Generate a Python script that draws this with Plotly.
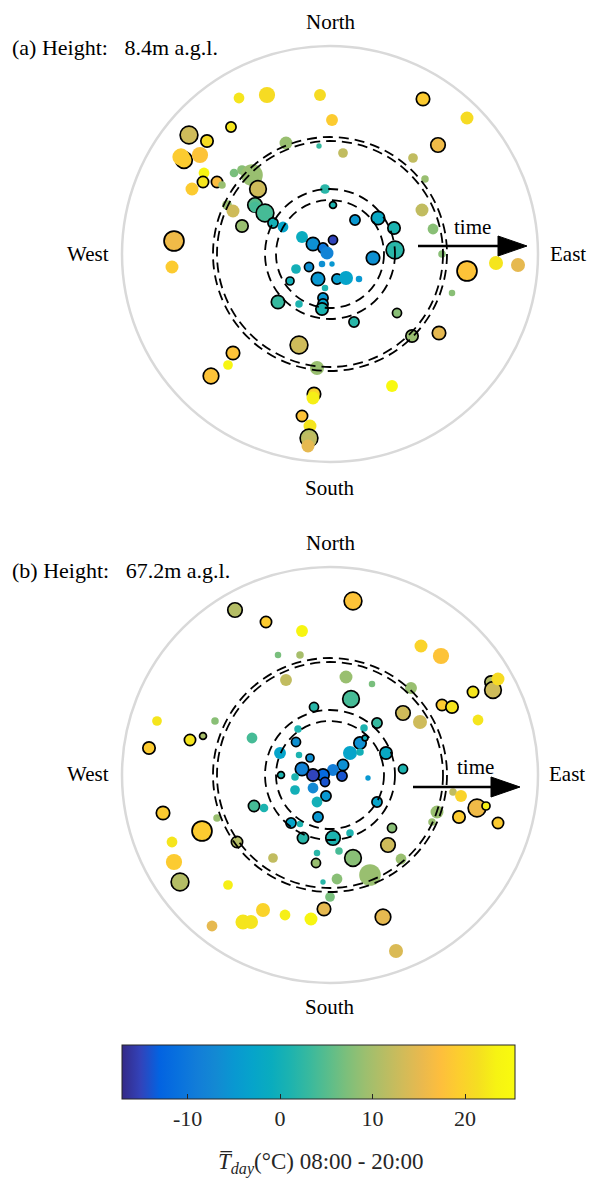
import plotly.graph_objects as go

# ---------------- data (east / north offsets in radius units, outer ring = 208) ----------------
R_OUTER = 208
RINGS = [117, 113, 65, 54]
T_MIN, T_MAX = -17.1, 25.4

# panel (a) 8.4 m
A_EAST = [-91, -63, -10, 93, 2, 137, -99, -141, -123, 108, -146, -149, -130, -44, -11, 13, 83, 95,
          -126, -96, -88, -78, -138, -127, -113, -108, -103, -97, -88, -72, -75, -75, -65, -57, -47,
          -5, 3, 25, 48, 64, 65, 43, -28, -17, 3, -7, -3, -8, 2, -34, -21, -40, -12, 7, 16, 29, -5,
          -7, -7, -8, -52, -31, 24, 67, 92, 103, 112, 122, 137, 166, 188, -156, -158, -31, 82, 109,
          -97, -102, -119, -13, -16, -17, 62, -28, -20, -21, -21, -22]
A_NORTH = [156, 159, 159, 155, 134, 136, 127, 119, 113, 109, 94, 97, 99, 111, 108, 101, 96, 75,
           81, 81, 84, 79, 65, 72, 72, 69, 49, 43, 28, 65, 49, 47, 41, 31, 27,
           65, 49, 34, 36, 26, 4, -4, 17, 10, 14, 6, 1, -10, -10, -15, -13, -27, -25, -25, -24, -25, -34,
           -44, -50, -55, -48, -50, -68, -59, 44, 25, 0, -39, -17, -9, -11, 13, -13, -91, -82, -79,
           -99, -111, -122, -114, -140, -144, -132, -162, -172, -184, -186, -192]
A_TEMP = [22, 21, 21, 19, 19, 21, 22, 13, 21, 16, 19, 19, 18, 9, 3, 12, 12, 9,
          24, 7, 8, 9, 19, 22, 17, 9, 9, 13, 9, 13, 5, 4, 4, 0, -3,
          2, 1, -5, -2, 1, 2, -6, -1, -6, -15, -10, -8, -6, -5, 0, -6, 0, -5, -4, -3, -5, 1,
          -5, -3, 1, 3, 1, 2, 8, 12, 8, 8, 8, 18, 22, 15, 16, 19, 13, 9, 15,
          18, 24, 18, 9, 20, 23, 25, 18, 22, 11, 12, 15]
A_SIZE = [10, 15, 11, 14, 11, 12, 11, 18, 13, 15, 17, 16, 15, 12, 5, 9, 9, 7,
          10, 8, 9, 20, 12, 12, 12, 7, 9, 12, 13, 17, 15, 10, 18, 11, 10,
          9, 8, 11, 14, 13, 18, 14, 11, 14, 10, 11, 12, 6, 5, 9, 10, 9, 14, 11, 13, 6, 6,
          11, 11, 13, 14, 7, 11, 10, 12, 10, 7, 6, 20, 13, 13, 20, 12, 18, 13, 14,
          14, 9, 16, 13, 14, 12, 11, 12, 12, 18, 14, 12]
A_EDGE = [0, 0, 0, 1, 0, 0, 1, 1, 1, 1, 1, 0, 0, 0, 0, 0, 0, 0,
          0, 0, 0, 0, 0, 1, 1, 0, 0, 0, 1, 1, 1, 0, 1, 1, 0,
          0, 1, 1, 1, 1, 1, 1, 0, 1, 1, 1, 0, 0, 0, 0, 1, 1, 1, 1, 0, 0, 0,
          1, 1, 1, 1, 0, 1, 1, 0, 0, 0, 0, 1, 0, 0, 1, 0, 1, 1, 1,
          1, 0, 1, 0, 1, 0, 0, 1, 0, 1, 0, 0]

# panel (b) 67.2 m
B_EAST = [-95, -64, -28, 23, 91, 111, -52, -30, -44, 16, 42, 81, 21, 143, 161, 163, 168, 112, 122,
          -16, 73, 90, 148, -173, -115, -181, -140, -127, -78, -32, 34, 47, 30, 35, 20, 30, 13, 3,
          12, -7, -5, -17, -28, -35, -20, -31, -50, -34, -49, -35, -17, -4, -13, 38, 73, 56, 47,
          -76, -66, -12, -39, -30, -27, 3, 20, 62, 58, 107, 102, 123, 131, 147, 156, 129, 168,
          -167, -128, -158, -113, -93, -156, -150, -102, -57, -14, -13, 9, 23, 40, 71, -7, 7, 0,
          -6, 53, -19, -45, -67, -87, -79, -118, 66]
B_NORTH = [165, 153, 144, 174, 129, 119, 120, 120, 95, 98, 91, 87, 76, 83, 93, 85, 96, 70, 68,
           68, 62, 53, 55, 54, 54, 27, 35, 39, 37, 46, 47, 52, 32, 37, 22, 23, 10, 5,
           -1, 0, -7, 0, 6, -2, 17, 20, 22, 33, 0, -15, -13, -21, -27, -3, 6, 22, -27,
           -31, -33, -42, -48, -49, -63, -63, -58, -53, -70, -37, -47, -17, -21, -33, -31, -42, -48,
           -38, -56, -67, -43, -67, -87, -107, -110, -83, -88, -78, -76, -83, -100, -84, -107, -104, -122,
           -134, -142, -144, -140, -135, -147, -147, -151, -176]
B_TEMP = [11, 19, 24, 18, 20, 18, 7, 10, 12, 9, 7, 9, 4, 22, 11, 13, 21, 19, 22,
          2, 13, 13, 22, 22, 8, 19, 22, 10, 4, 1, 1, 3, -6, 0, -3, 0, -6, -9,
          -14, -12, -14, -15, -8, 1, -6, 1, -3, -6, 1, 0, -7, -5, 0, -5, 1, -2, -3,
          4, 1, -5, -3, 1, 2, 1, 1, 8, 13, 9, 9, 12, 20, 16, 23, 19, 19,
          19, 19, 22, 9, 11, 19, 11, 23, 12, 9, 2, 4, 8, 9, 9, 2, 8, 7,
          15, 15, 24, 23, 20, 22, 22, 15, 14]
B_SIZE = [15, 12, 11, 18, 12, 15, 6, 7, 11, 12, 6, 11, 17, 12, 13, 17, 12, 12, 13,
          10, 15, 13, 10, 9, 7, 13, 12, 8, 10, 7, 7, 11, 13, 7, 13, 7, 12, 11,
          11, 13, 10, 13, 14, 7, 9, 6, 11, 10, 8, 9, 10, 11, 10, 5, 10, 13, 11,
          12, 8, 11, 11, 6, 12, 15, 7, 10, 15, 12, 7, 7, 11, 18, 9, 13, 12,
          14, 20, 10, 7, 12, 15, 18, 9, 9, 10, 6, 7, 17, 20, 10, 5, 10, 9,
          14, 16, 12, 10, 13, 14, 13, 10, 13]
B_EDGE = [1, 1, 0, 1, 0, 0, 0, 0, 0, 0, 0, 0, 1, 1, 1, 1, 0, 1, 1,
          1, 1, 0, 0, 0, 0, 1, 1, 1, 0, 0, 0, 1, 1, 1, 0, 0, 1, 0,
          1, 1, 1, 1, 1, 0, 1, 0, 0, 1, 1, 0, 0, 1, 0, 0, 1, 1, 1,
          1, 0, 1, 1, 0, 1, 1, 0, 1, 1, 0, 0, 0, 0, 1, 1, 1, 1,
          1, 1, 0, 0, 1, 0, 1, 0, 0, 1, 0, 0, 1, 0, 0, 0, 0, 0,
          1, 1, 0, 0, 0, 0, 0, 0, 0]

TITLES = ["(a) Height:\u2002 8.4m a.g.l.", "(b) Height:\u2002 67.2m a.g.l."]
CB_TICKS = [-10, 0, 10, 20]
CB_TITLE = "<i>T\u0305</i><sub><i>day</i></sub>(°C) 08:00 - 20:00"

# ---------------- style ----------------
FONT = "Liberation Serif"
PARULA = [
    [0.2081, 0.1663, 0.5292], [0.1959, 0.2645, 0.7279], [0.0117, 0.3875, 0.8820],
    [0.0329, 0.4430, 0.8720], [0.0723, 0.4887, 0.8467], [0.0749, 0.5375, 0.8263],
    [0.0343, 0.5966, 0.8199], [0.0231, 0.6418, 0.7913], [0.0384, 0.6743, 0.7436],
    [0.1133, 0.7015, 0.6859], [0.2178, 0.7250, 0.6193], [0.3482, 0.7424, 0.5473],
    [0.4871, 0.7491, 0.4840], [0.6099, 0.7473, 0.4337], [0.7184, 0.7411, 0.3905],
    [0.8185, 0.7327, 0.3498], [0.9139, 0.7258, 0.3063], [0.9938, 0.7455, 0.2403],
    [0.9880, 0.8066, 0.1794], [0.9626, 0.8705, 0.1309], [0.9661, 0.9514, 0.0755],
    [0.9763, 0.9831, 0.0538]]
n = len(PARULA)
colorscale = [[i / (n - 1), "rgb(%d,%d,%d)" % tuple(int(round(c * 255)) for c in col)]
              for i, col in enumerate(PARULA)]

W, H = 590, 1181
CX = 330                # panel centre x (px)
CY = [254, 775]         # panel centre y (px)
HALF = 250              # half vertical extent of each panel, px (1 unit = 1 px)
LW = 1.7
SIZE_GAIN = 1.08

fig = go.Figure()

panels = [(A_EAST, A_NORTH, A_TEMP, A_SIZE, A_EDGE), (B_EAST, B_NORTH, B_TEMP, B_SIZE, B_EDGE)]
for k, (ex, no, te, sz, ed) in enumerate(panels):
    xa = "x" if k == 0 else "x2"
    ya = "y" if k == 0 else "y2"
    fig.add_trace(go.Scatter(
        x=ex, y=no, mode="markers", xaxis=xa, yaxis=ya, cliponaxis=False,
        marker=dict(color=te, coloraxis="coloraxis",
                    size=[s * SIZE_GAIN - LW * e for s, e in zip(sz, ed)],
                    line=dict(width=[LW * e for e in ed], color="black"),
                    opacity=1),
        hoverinfo="skip", showlegend=False))

layout_axes = {}
shapes = []
annotations = []
for k in range(2):
    yd = [1 - (CY[k] + HALF) / H, 1 - (CY[k] - HALF) / H]
    sfx = "" if k == 0 else "2"
    layout_axes["xaxis" + sfx] = dict(domain=[0, 1], range=[-CX, W - CX], visible=False, fixedrange=True)
    layout_axes["yaxis" + sfx] = dict(domain=yd, range=[-HALF, HALF], visible=False, fixedrange=True)
    xr, yr = "x" + sfx, "y" + sfx
    shapes.append(dict(type="circle", xref=xr, yref=yr, x0=-R_OUTER, x1=R_OUTER, y0=-R_OUTER,
                       y1=R_OUTER, line=dict(color="#d9d9d9", width=2.5), layer="below"))
    for r in RINGS:
        shapes.append(dict(type="circle", xref=xr, yref=yr, x0=-r, x1=r, y0=-r, y1=r,
                           line=dict(color="black", width=1.8, dash="10px,6px"), layer="above"))
    # arrow "time"
    ay = 8 if k == 0 else -12
    x_start = 88 if k == 0 else 83
    x_tip = 197 if k == 0 else 190
    base = x_tip - 29
    shapes.append(dict(type="line", xref=xr, yref=yr, x0=x_start, x1=base + 2, y0=ay, y1=ay,
                       line=dict(color="black", width=2.5), layer="above"))
    shapes.append(dict(type="path", xref=xr, yref=yr,
                       path=f"M {base},{ay + 10} L {x_tip},{ay} L {base},{ay - 10} Z",
                       fillcolor="black", line=dict(color="black", width=1), layer="above"))
    tf = dict(family=FONT, size=21, color="black")
    annotations += [
        dict(xref=xr, yref=yr, x=0, y=232, text="North", showarrow=False, font=tf),
        dict(xref=xr, yref=yr, x=0, y=-234 if k == 0 else -232, text="South", showarrow=False, font=tf),
        dict(xref=xr, yref=yr, x=-242, y=0 if k == 0 else 1, text="West", showarrow=False, font=tf),
        dict(xref=xr, yref=yr, x=238 if k == 0 else 237, y=0 if k == 0 else 1, text="East",
             showarrow=False, font=tf),
        dict(xref=xr, yref=yr, x=142 if k == 0 else 145, y=27 if k == 0 else 8, text="time",
             showarrow=False, font=tf),
        dict(xref=xr, yref=yr, x=-320, y=206 if k == 0 else 205, text=TITLES[k], showarrow=False,
             xanchor="left", font=dict(family=FONT, size=22, color="black")),
    ]

annotations.append(dict(xref="paper", yref="paper", x=321 / W, y=1 - 1163 / H, yanchor="middle",
                        text=CB_TITLE, showarrow=False,
                        font=dict(family=FONT, size=23, color="#262626")))

fig.update_layout(
    width=W, height=H, margin=dict(l=0, r=0, t=0, b=0),
    paper_bgcolor="white", plot_bgcolor="white",
    font=dict(family=FONT, size=21, color="black"),
    coloraxis=dict(
        colorscale=colorscale, cmin=T_MIN, cmax=T_MAX,
        colorbar=dict(
            orientation="h", x=318.5 / W, xanchor="center", xref="paper",
            len=393 / W, lenmode="fraction", thickness=54, thicknessmode="pixels",
            y=1 - 1045 / H, yanchor="top", yref="paper", ypad=0, xpad=0,
            outlinewidth=1, outlinecolor="#262626",
            ticks="inside", ticklen=5, tickwidth=1, tickcolor="#262626",
            tickvals=CB_TICKS, ticktext=[str(v) for v in CB_TICKS],
            tickfont=dict(family=FONT, size=22, color="#262626"),
        )),
    shapes=shapes, annotations=annotations,
    **layout_axes,
)

fig.write_html("out.html")
